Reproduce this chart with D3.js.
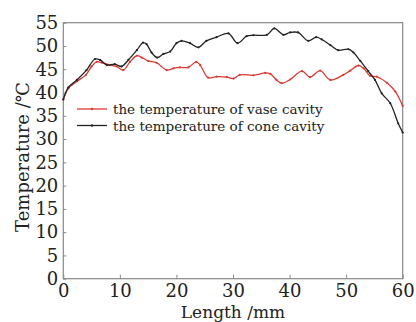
<!DOCTYPE html>
<html>
<head>
<meta charset="utf-8">
<script src="https://cdn.jsdelivr.net/npm/d3@7"></script>
<style>
  body { margin: 0; background: #fff; }
  text { font-family: "DejaVu Serif", serif; fill: #222; }
</style>
</head>
<body>
<svg id="chart" width="416" height="322"></svg>
<script>
// data (length in mm, temperature in degC)
const vaseLen = [0, 0.9, 2.4, 4.0, 5.0, 5.9, 6.8, 8.3, 9.4, 10.6, 11.8, 13.0, 13.9, 15.0, 16.5, 18.3, 19.5, 20.6, 22.1, 23.5, 24.2, 25.6, 27.1, 28.9, 30.1, 31.2, 33.6, 35.7, 36.6, 37.7, 38.6, 40.1, 42.2, 43.6, 45.4, 47.2, 49.5, 50.7, 52.2, 53.1, 54.2, 55.4, 57.2, 58.7, 60];
const vaseTemp = [38.5, 40.9, 42.4, 43.8, 45.6, 46.6, 46.4, 45.9, 45.6, 44.8, 46.6, 47.9, 47.5, 46.8, 46.4, 44.8, 45.2, 45.4, 45.4, 46.6, 45.9, 43.2, 43.4, 43.3, 43.0, 43.8, 43.7, 44.2, 44.0, 42.7, 42.0, 42.8, 44.6, 43.3, 44.7, 42.7, 43.8, 44.7, 45.8, 45.2, 43.6, 43.4, 42.1, 40.2, 37.1];

const coneLen = [0, 0.9, 2.4, 4.1, 5.6, 6.5, 7.7, 9.1, 10.3, 11.5, 13.0, 14.1, 14.7, 15.6, 16.6, 17.7, 18.9, 20.0, 20.9, 22.4, 23.9, 25.3, 27.1, 29.2, 30.8, 32.4, 33.6, 36.0, 37.3, 38.9, 40.1, 41.5, 43.3, 44.7, 45.7, 47.2, 48.6, 50.4, 51.3, 52.5, 53.9, 55.1, 56.3, 57.8, 59.2, 60];
const coneTemp = [38.5, 41.1, 42.7, 44.8, 47.2, 47.0, 45.9, 46.1, 45.6, 47.0, 49.1, 50.7, 50.4, 48.6, 47.5, 48.3, 48.8, 50.6, 51.1, 50.6, 49.7, 51.1, 51.9, 52.7, 50.6, 52.1, 52.3, 52.4, 53.8, 52.4, 52.9, 52.9, 51.1, 51.9, 51.4, 50.2, 49.1, 49.3, 48.6, 46.8, 44.6, 42.7, 39.8, 37.7, 33.4, 31.4];

const xTicks = [0, 10, 20, 30, 40, 50, 60];
const yTicks = [0, 5, 10, 15, 20, 25, 30, 35, 40, 45, 50, 55];
const seriesNames = ["the temperature of vase cavity", "the temperature of cone cavity"];
const seriesColors = ["#d93a34", "#222"];

const svg = d3.select("#chart");
const plotLeft = 63.3, plotRight = 402.7, plotTop = 22.7, plotBottom = 278.7;

const x = d3.scaleLinear().domain([0, 60]).range([plotLeft, plotRight]);
const y = d3.scaleLinear().domain([0, 55]).range([plotBottom, plotTop]);

// frame
svg.append("rect")
    .attr("x", plotLeft).attr("y", plotTop)
    .attr("width", plotRight - plotLeft).attr("height", plotBottom - plotTop)
    .attr("fill", "none").attr("stroke", "#888").attr("stroke-width", 1.2);

const xAxis = svg.append("g")
    .attr("transform", `translate(0, ${plotBottom})`)
    .call(d3.axisBottom(x).tickValues(xTicks).tickSize(-4).tickPadding(6).tickFormat(d3.format("d")));
xAxis.select(".domain").remove();
xAxis.selectAll("line").attr("stroke", "#888");
xAxis.selectAll("text").attr("font-size", "18px").attr("font-family", "DejaVu Serif").attr("fill", "#222");

const yAxis = svg.append("g")
    .attr("transform", `translate(${plotLeft}, 0)`)
    .call(d3.axisLeft(y).tickValues(yTicks).tickSize(-3).tickPadding(5).tickFormat(d3.format("d")));
yAxis.select(".domain").remove();
yAxis.selectAll("line").attr("stroke", "#888");
yAxis.selectAll("text").attr("font-size", "18px").attr("font-family", "DejaVu Serif").attr("fill", "#222");

// axis titles
svg.append("text")
    .attr("x", (plotLeft + plotRight) / 2).attr("y", 317.5)
    .attr("text-anchor", "middle").attr("font-size", "17px")
    .text("Length /mm");

svg.append("text")
    .attr("transform", `translate(29, 157) rotate(-90)`)
    .attr("text-anchor", "middle").attr("font-size", "18px")
    .text("Temperature /℃");

// curves
const line = d3.line().x(d => x(d[0])).y(d => y(d[1])).curve(d3.curveCatmullRom.alpha(0.5));

const series = [
    d3.zip(vaseLen, vaseTemp),
    d3.zip(coneLen, coneTemp)
];

series.forEach((pts, i) => {
    svg.append("path")
        .datum(pts)
        .attr("fill", "none")
        .attr("stroke", seriesColors[i])
        .attr("stroke-width", 1.3)
        .attr("d", line);
    svg.append("g").selectAll("circle").data(pts).enter()
        .append("circle")
        .attr("cx", d => x(d[0])).attr("cy", d => y(d[1]))
        .attr("r", 1.1)
        .attr("fill", seriesColors[i]);
});

// legend
const legend = svg.append("g");
seriesNames.forEach((name, i) => {
    const ly = 109 + i * 16.5;
    legend.append("line")
        .attr("x1", 77).attr("x2", 107)
        .attr("y1", ly).attr("y2", ly)
        .attr("stroke", seriesColors[i]).attr("stroke-width", 1.3);
    legend.append("circle")
        .attr("cx", 92).attr("cy", ly).attr("r", 1.2)
        .attr("fill", seriesColors[i]);
    legend.append("text")
        .attr("x", 113).attr("y", ly + 5)
        .attr("font-size", "13.5px")
        .text(name);
});
</script>
</body>
</html>
